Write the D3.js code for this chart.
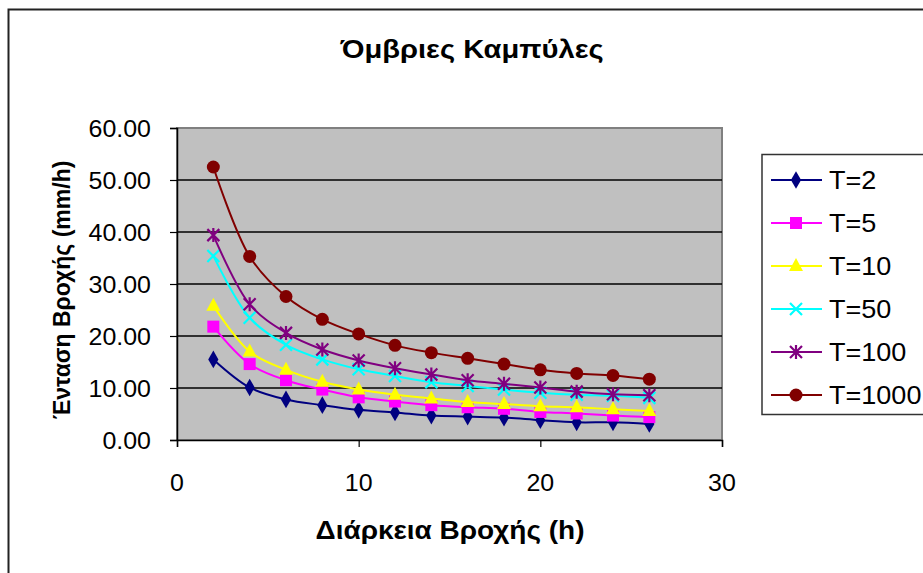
<!DOCTYPE html>
<html><head><meta charset="utf-8">
<script src="https://cdn.jsdelivr.net/npm/d3@7"></script>
<style>body{margin:0;background:#fff}svg{display:block}</style>
</head><body>
<svg id="c" width="923" height="573"></svg>
<script>
const durations = [2,4,6,8,10,12,14,16,18,20,22,24,26];
const T2    = [15.5,10.1,7.8,6.7,5.8,5.3,4.7,4.5,4.3,3.8,3.4,3.4,3.1];
const T5    = [21.8,14.6,11.5,9.7,8.2,7.4,6.7,6.3,6.0,5.4,5.1,4.7,4.4];
const T10   = [25.8,17.0,13.5,11.2,9.7,8.7,8.0,7.3,6.9,6.5,6.3,5.9,5.6];
const T50   = [35.4,23.5,18.3,15.5,13.6,12.3,11.1,10.4,9.7,9.1,8.7,8.5,8.1];
const T100  = [39.4,26.1,20.6,17.4,15.3,13.8,12.6,11.5,10.8,10.1,9.3,8.8,8.6];
const T1000 = [52.5,35.3,27.6,23.2,20.4,18.2,16.8,15.7,14.6,13.5,12.8,12.4,11.7];
const seriesNames = ["T=2","T=5","T=10","T=50","T=100","T=1000"];
const seriesValues = [T2,T5,T10,T50,T100,T1000];
const seriesColors = ["#000080","#FF00FF","#FFFF00","#00FFFF","#800080","#800000"];
const seriesMarkers = ["diamond","square","triangle","x","star","circle"];
const xTicks = [0,10,20,30];
const yTicks = [0,10,20,30,40,50,60];
const titleText = "Όμβριες Καμπύλες";
const xTitle = "Διάρκεια Βροχής (h)";
const yTitle = "Ένταση Βροχής (mm/h)";

const svg = d3.select("#c");
const L = 177, R = 722, Tp = 128, B = 440;
const x = d3.scaleLinear().domain([0,30]).range([L,R]);
const y = d3.scaleLinear().domain([0,60]).range([B,Tp]);
const font = "Arial, 'Liberation Sans', sans-serif";

function stext(g, tx, ty, sx, str, size, anchor, bold){
  return g.append("text").attr("transform",`translate(${tx},${ty}) scale(${sx},1)`)
    .attr("text-anchor",anchor).attr("font-family",font).attr("font-size",size)
    .attr("font-weight",bold?"bold":"normal").attr("fill","#000").text(str);
}

// outer border (only top & left visible)
svg.append("rect").attr("x",8.5).attr("y",9.5).attr("width",1000).attr("height",700)
  .attr("fill","none").attr("stroke","#222").attr("stroke-width",2);

// title
stext(svg, 472, 58, 1.12, titleText, 26, "middle", true);

// plot area
svg.append("rect").attr("x",L).attr("y",Tp).attr("width",R-L).attr("height",B-Tp)
  .attr("fill","#C0C0C0").attr("stroke","#808080").attr("stroke-width",2);

// gridlines
svg.append("g").selectAll("line").data(yTicks.filter(d=>d>0 && d<60)).join("line")
  .attr("x1",L).attr("x2",R).attr("y1",d=>y(d)).attr("y2",d=>y(d))
  .attr("stroke","#000").attr("stroke-width",1.5);

// axes
const yAxis = d3.axisLeft(y).tickValues(yTicks).tickSize(7).tickFormat("");
const gy = svg.append("g").attr("transform",`translate(${L},0)`).call(yAxis);
const xAxis = d3.axisBottom(x).tickValues(xTicks).tickSize(7).tickFormat("");
const gx = svg.append("g").attr("transform",`translate(0,${B})`).call(xAxis);
[gx,gy].forEach(g=>{
  g.select(".domain").attr("stroke","#000").attr("stroke-width",1.5);
  g.selectAll(".tick line").attr("stroke","#000").attr("stroke-width",1.2);
});
const fmtY = d3.format(".2f");
yTicks.forEach(v=>{
  stext(svg, 151, y(v), 1.02, fmtY(v), 24.5, "end", false).attr("dy","0.36em");
});
xTicks.forEach(v=>{
  stext(svg, x(v), y(0)+51, 1.02, String(v), 24.5, "middle", false);
});

// axis titles
stext(svg, 450, 539, 1.12, xTitle, 25, "middle", true);
svg.append("text").attr("transform","translate(70,290) rotate(-90)").attr("text-anchor","middle")
  .attr("font-family",font).attr("font-weight","bold").attr("font-size",23).text(yTitle);

function drawMarker(g, type, cx, cy, color){
  if(type==="diamond"){
    g.append("path").attr("d",d3.symbol(d3.symbolDiamond,90)()).attr("transform",`translate(${cx},${cy})`).attr("fill",color);
  } else if(type==="square"){
    g.append("rect").attr("x",cx-6).attr("y",cy-6).attr("width",12).attr("height",12).attr("fill",color);
  } else if(type==="triangle"){
    g.append("path").attr("d",`M${cx},${cy-8}L${cx+7},${cy+5}L${cx-7},${cy+5}Z`).attr("fill",color);
  } else if(type==="x"){
    g.append("path").attr("d",`M${cx-6},${cy-6}L${cx+6},${cy+6}M${cx-6},${cy+6}L${cx+6},${cy-6}`)
      .attr("stroke",color).attr("stroke-width",2.2).attr("fill","none");
  } else if(type==="star"){
    g.append("path").attr("d",`M${cx-6},${cy-6}L${cx+6},${cy+6}M${cx-6},${cy+6}L${cx+6},${cy-6}M${cx},${cy-7}L${cx},${cy+7}`)
      .attr("stroke",color).attr("stroke-width",2.2).attr("fill","none");
  } else if(type==="circle"){
    g.append("circle").attr("cx",cx).attr("cy",cy).attr("r",6.5).attr("fill",color);
  }
}

const line = d3.line().x(d=>x(d[0])).y(d=>y(d[1])).curve(d3.curveCatmullRom.alpha(0.5));
seriesValues.forEach((vals,i)=>{
  const pts = durations.map((d,j)=>[d,vals[j]]);
  const g = svg.append("g");
  g.append("path").attr("d",line(pts)).attr("fill","none").attr("stroke",seriesColors[i]).attr("stroke-width",2);
  pts.forEach(p=>drawMarker(g, seriesMarkers[i], x(p[0]), y(p[1]), seriesColors[i]));
});

// legend
const lg = svg.append("g");
lg.append("rect").attr("x",762).attr("y",154.5).attr("width",200).attr("height",260)
  .attr("fill","#fff").attr("stroke","#333").attr("stroke-width",1.5);
seriesNames.forEach((n,i)=>{
  const yy = 180 + i*43;
  lg.append("line").attr("x1",771).attr("x2",822).attr("y1",yy).attr("y2",yy)
    .attr("stroke",seriesColors[i]).attr("stroke-width",2);
  drawMarker(lg, seriesMarkers[i], 796, yy, seriesColors[i]);
  stext(lg, 829, yy, 1.04, n, 26, "start", false).attr("dy","0.36em");
});
</script>
</body></html>
